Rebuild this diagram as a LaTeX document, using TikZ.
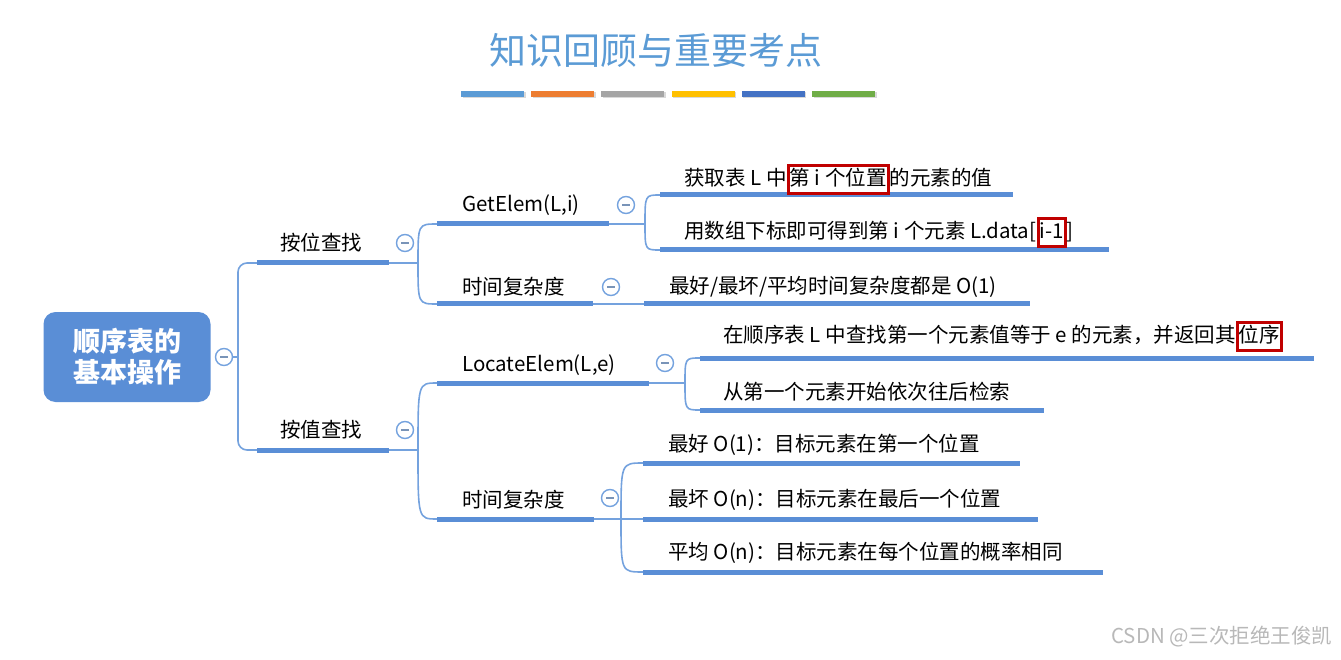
\documentclass[tikz,border=0pt]{standalone}
\usepackage{fontspec}
\setmainfont{Noto Sans CJK SC}
\usetikzlibrary{positioning}
\definecolor{mapblue}{HTML}{5A8ED6}
\definecolor{linkblue}{HTML}{74A2DE}
\definecolor{titleblue}{HTML}{5B9BD5}
\definecolor{markred}{HTML}{C00000}
\definecolor{barblue}{HTML}{5B9BD5}
\definecolor{barorange}{HTML}{ED7D31}
\definecolor{bargray}{HTML}{A5A5A5}
\definecolor{bargold}{HTML}{FFC000}
\definecolor{barnavy}{HTML}{4472C4}
\definecolor{bargreen}{HTML}{70AD47}

\begin{document}
\begin{tikzpicture}[x=1pt, y=-1pt,
    topic/.style={anchor=west, inner sep=0pt, font=\fontsize{20.5}{24}\selectfont},
    redbox/.style={draw=markred, line width=3pt, inner xsep=1.5pt, inner ysep=5pt,
        text height=15pt, text depth=3pt, font=\fontsize{20.5}{24}\selectfont},
    uline/.style={mapblue, line width=5pt},
    link/.style={linkblue, line width=1.6pt},
    fold/.style={circle, draw=linkblue, fill=white, line width=1.4pt, minimum size=17pt, inner sep=0pt,
        path picture={\draw[linkblue!60!gray, line width=1.6pt]
            ([xshift=-4pt]path picture bounding box.center) -- ([xshift=4pt]path picture bounding box.center);}},
    rootbox/.style={rounded corners=12pt, fill=mapblue, text=white, align=center,
        minimum width=167pt, minimum height=90pt, font=\fontsize{27}{31}\selectfont\bfseries},
  ]
  \useasboundingbox (0,0) rectangle (1341,660);

  % title and colour bars
  \node[text=titleblue, font=\fontsize{37}{42}\selectfont] (title) at (656,50) {知识回顾与重要考点};
  \foreach \c [count=\i from 0] in {barblue,barorange,bargray,bargold,barnavy,bargreen} {
    \fill[black!15] (462.5+\i*70.2, 92.5) rectangle ++(63,6);
    \fill[\c] (461+\i*70.2, 91) rectangle ++(63,6);
  }

  % anchor points of the underlines
  \coordinate (bypos-l) at (257,263);   \coordinate (bypos-r) at (389,263);
  \coordinate (byval-l) at (257,450);   \coordinate (byval-r) at (389,450);
  \coordinate (getelem-l) at (437,224); \coordinate (getelem-r) at (609,224);
  \coordinate (ptime-l) at (437,304);   \coordinate (ptime-r) at (593,304);
  \coordinate (locelem-l) at (437,383); \coordinate (locelem-r) at (649,383);
  \coordinate (vtime-l) at (437,519);   \coordinate (vtime-r) at (594,519);
  \coordinate (gidx1-l) at (660,195);   \coordinate (gidx1-r) at (1013,195);
  \coordinate (gidx2-l) at (660,250);   \coordinate (gidx2-r) at (1109,250);
  \coordinate (pcost-l) at (644,304);   \coordinate (pcost-r) at (1030,304);
  \coordinate (lfind1-l) at (700,358);  \coordinate (lfind1-r) at (1314,358);
  \coordinate (lfind2-l) at (700,410);  \coordinate (lfind2-r) at (1044,410);
  \coordinate (vbest-l) at (643,463);   \coordinate (vbest-r) at (1020,463);
  \coordinate (vworst-l) at (643,519);  \coordinate (vworst-r) at (1038,519);
  \coordinate (vavg-l) at (643,572);    \coordinate (vavg-r) at (1103,572);

  % branch points
  \coordinate (root-br) at (238,357);
  \coordinate (bypos-br) at (418,263);
  \coordinate (byval-br) at (418,450);
  \coordinate (getelem-br) at (645,224);
  \coordinate (locelem-br) at (685,383);
  \coordinate (vtime-br) at (621,519);

  % root
  \node[rootbox] (root) at (127,357) {顺序表的\\基本操作};
  \node[fold] (root-fold) at (224,357) {};

  % connectors
  \draw[link] (root-fold.east) -- (root-br);
  \draw[link, rounded corners=9pt] (root-br) |- (bypos-l);
  \draw[link, rounded corners=9pt] (root-br) |- (byval-l);

  \draw[link] (bypos-r) -- (bypos-br);
  \draw[link] (bypos-br) .. controls (bypos-br |- getelem-l) .. (getelem-l);
  \draw[link] (bypos-br) .. controls (bypos-br |- ptime-l) .. (ptime-l);
  \draw[link] (byval-r) -- (byval-br);
  \draw[link] (byval-br) .. controls (byval-br |- locelem-l) .. (locelem-l);
  \draw[link] (byval-br) .. controls (byval-br |- vtime-l) .. (vtime-l);

  \draw[link] (getelem-r) -- (getelem-br);
  \draw[link] (getelem-br) .. controls (getelem-br |- gidx1-l) .. (gidx1-l);
  \draw[link] (getelem-br) .. controls (getelem-br |- gidx2-l) .. (gidx2-l);
  \draw[link] (ptime-r) -- (pcost-l);
  \draw[link] (locelem-r) -- (locelem-br);
  \draw[link] (locelem-br) .. controls (locelem-br |- lfind1-l) .. (lfind1-l);
  \draw[link] (locelem-br) .. controls (locelem-br |- lfind2-l) .. (lfind2-l);
  \draw[link] (vtime-r) -- (vworst-l);
  \draw[link] (vtime-br) .. controls (vtime-br |- vbest-l) .. (vbest-l);
  \draw[link] (vtime-br) .. controls (vtime-br |- vavg-l) .. (vavg-l);

  % underlines
  \foreach \u in {bypos,byval,getelem,ptime,locelem,vtime,gidx1,gidx2,pcost,lfind1,lfind2,vbest,vworst,vavg}
    \draw[uline] (\u-l) -- (\u-r);

  % level 1
  \node[topic] (bypos) at (280,243) {按位查找};
  \node[fold] (bypos-fold) at (405,243) {};
  \node[topic] (byval) at (280,430) {按值查找};
  \node[fold] (byval-fold) at (405,430) {};

  % level 2
  \node[topic] (getelem) at (462,205) {GetElem(L,i)};
  \node[fold] (getelem-fold) at (626,205) {};
  \node[topic] (ptime) at (462,287) {时间复杂度};
  \node[fold] (ptime-fold) at (611,287) {};
  \node[topic] (locelem) at (462,365) {LocateElem(L,e)};
  \node[fold] (locelem-fold) at (665,363) {};
  \node[topic] (vtime) at (462,500) {时间复杂度};
  \node[fold] (vtime-fold) at (610,498) {};

  % level 3
  \node[topic] (gidx1a) at (684,178) {获取表 L 中};
  \node[redbox, base right=0pt of gidx1a] (gidx1b) {第 i 个位置};
  \node[topic, base right=0pt of gidx1b] (gidx1c) {的元素的值};
  \node[topic] (gidx2a) at (684,232) {用数组下标即可得到第 i 个元素 L.data[};
  \node[redbox, base right=0pt of gidx2a] (gidx2b) {i-1};
  \node[topic, base right=0pt of gidx2b] (gidx2c) {]};
  \node[topic] (pcost) at (669,287) {最好/最坏/平均时间复杂度都是 O(1)};
  \node[topic] (lfind1a) at (723,335) {在顺序表 L 中查找第一个元素值等于 e 的元素，并返回其};
  \node[redbox, base right=0pt of lfind1a] (lfind1b) {位序};
  \node[topic] (lfind2) at (723,392) {从第一个元素开始依次往后检索};
  \node[topic] (vbest) at (668,445) {最好 O(1)：目标元素在第一个位置};
  \node[topic] (vworst) at (668,500) {最坏 O(n)：目标元素在最后一个位置};
  \node[topic] (vavg) at (668,553) {平均 O(n)：目标元素在每个位置的概率相同};

  % watermark
  \node[anchor=east, text=black!28, font=\fontsize{20.5}{24}\selectfont] (csdn) at (1336,637) {CSDN @三次拒绝王俊凯};
\end{tikzpicture}
\end{document}
